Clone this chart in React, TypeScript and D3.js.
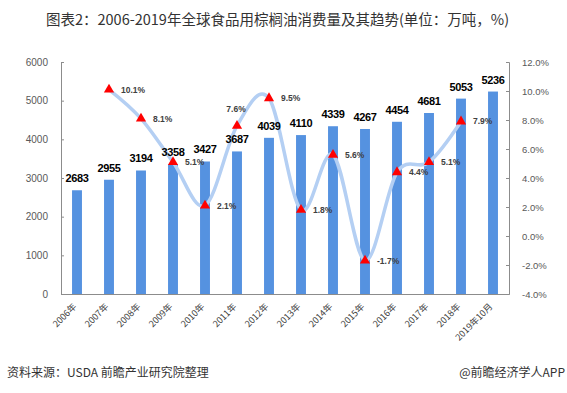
import { useEffect, useRef } from 'react';
import * as d3 from 'd3';

const categories = ['2006年', '2007年', '2008年', '2009年', '2010年', '2011年', '2012年', '2013年', '2014年', '2015年', '2016年', '2017年', '2018年', '2019年10月'];
const consumption = [2683, 2955, 3194, 3358, 3427, 3687, 4039, 4110, 4339, 4267, 4454, 4681, 5053, 5236];
const growthYears = ['2007年', '2008年', '2009年', '2010年', '2011年', '2012年', '2013年', '2014年', '2015年', '2016年', '2017年', '2018年'];
const growth = [10.1, 8.1, 5.1, 2.1, 7.6, 9.5, 1.8, 5.6, -1.7, 4.4, 5.1, 7.9];
const leftTicks = [0, 1000, 2000, 3000, 4000, 5000, 6000];
const rightTicks = [-4, -2, 0, 2, 4, 6, 8, 10, 12];

const W = 567;
const H = 393;
const CJK = '"Noto Sans CJK SC", "Noto Sans", sans-serif';
const NUM = '"Liberation Sans", Arial, sans-serif';

export default function App() {
  const svgRef = useRef<SVGSVGElement | null>(null);

  useEffect(() => {
    document.body.style.margin = '0';
    const svg = d3.select(svgRef.current);
    svg.selectAll('*').remove();

    const left = 61, right = 509, top = 62, bottom = 294;

    const x = d3.scaleBand<string>().domain(categories).range([left, right]).paddingInner(0.69).paddingOuter(0.345);
    const yL = d3.scaleLinear().domain([0, 6000]).range([bottom, top]);
    const yR = d3.scaleLinear().domain([-4, 12]).range([bottom, top]);
    const cx = (c: string) => (x(c) as number) + x.bandwidth() / 2;

    svg.append('rect').attr('width', W).attr('height', H).attr('fill', '#fff');

    // title
    svg.append('text')
      .attr('x', W / 2 - 6).attr('y', 25)
      .attr('text-anchor', 'middle')
      .attr('fill', '#333')
      .style('font-family', CJK)
      .style('font-size', '14.5px')
      .text('图表2：2006-2019年全球食品用棕榈油消费量及其趋势(单位：万吨，%)');

    // bars
    svg.selectAll('rect.bar')
      .data(consumption)
      .join('rect')
      .attr('class', 'bar')
      .attr('x', (_, i) => x(categories[i]) as number)
      .attr('width', x.bandwidth())
      .attr('y', d => yL(d))
      .attr('height', d => bottom - yL(d))
      .attr('fill', '#5592e0');

    // axes
    const axisColor = '#8c8c8c';
    const gl = svg.append('g').attr('transform', `translate(${left},0)`)
      .call(d3.axisLeft(yL).tickValues(leftTicks).tickSize(-3).tickPadding(13).tickFormat(d => String(d)));
    const gr = svg.append('g').attr('transform', `translate(${right},0)`)
      .call(d3.axisRight(yR).tickValues(rightTicks).tickSize(-3).tickPadding(13).tickFormat(d => `${(+d).toFixed(1)}%`));
    [gl, gr].forEach(g => {
      g.select('.domain').attr('stroke', axisColor);
      g.selectAll('.tick line').attr('stroke', axisColor);
      g.selectAll('.tick text')
        .attr('fill', '#595959')
        .style('font-family', NUM)
        .style('font-size', '10px');
    });
    gr.selectAll('.tick text').style('font-size', '9.5px');

    const gx = svg.append('g').attr('transform', `translate(0,${bottom})`)
      .call(d3.axisBottom(x).tickSize(0));
    gx.select('.domain').attr('stroke', axisColor);
    gx.selectAll('.tick text')
      .attr('fill', '#404040')
      .attr('x', 0).attr('y', 0).attr('dy', '0.35em')
      .style('font-family', CJK)
      .style('font-size', '9px')
      .attr('text-anchor', 'end')
      .attr('transform', 'translate(-2,11) rotate(-45)');

    // growth line
    const pts: [number, number][] = growth.map((v, i) => [cx(growthYears[i]), yR(v)]);
    const line = d3.line().curve(d3.curveCardinal.tension(0));
    svg.append('path')
      .attr('d', line(pts))
      .attr('fill', 'none')
      .attr('stroke', '#b4cff3')
      .attr('stroke-width', 3.5)
      .attr('stroke-linecap', 'round');

    // bar value labels
    svg.selectAll('text.val')
      .data(consumption)
      .join('text')
      .attr('class', 'val')
      .attr('x', (_, i) => cx(categories[i]))
      .attr('y', d => yL(d) - 8)
      .attr('text-anchor', 'middle')
      .attr('fill', '#000')
      .style('font-family', NUM)
      .style('font-size', '11px')
      .style('font-weight', '700')
      .style('letter-spacing', '-0.4px')
      .text(d => d);

    const tri = d3.symbol().type(d3.symbolTriangle).size(45);
    svg.selectAll('path.mk')
      .data(pts)
      .join('path')
      .attr('class', 'mk')
      .attr('d', tri)
      .attr('transform', d => `translate(${d[0]},${d[1]})`)
      .attr('fill', '#ff0000');

    // 2011 label sits above its marker, the rest to the right
    svg.selectAll('text.pct')
      .data(growth)
      .join('text')
      .attr('class', 'pct')
      .attr('x', (_, i) => growthYears[i] === '2011年' ? pts[i][0] - 1 : pts[i][0] + 12)
      .attr('y', (_, i) => growthYears[i] === '2011年' ? pts[i][1] - 14 : pts[i][1] + 3)
      .attr('text-anchor', (_, i) => growthYears[i] === '2011年' ? 'middle' : 'start')
      .attr('fill', '#404040')
      .style('font-family', NUM)
      .style('font-size', '8.5px')
      .style('font-weight', '700')
      .text(d => `${d.toFixed(1)}%`);

    // footer
    svg.append('text')
      .attr('x', 7).attr('y', 377)
      .attr('fill', '#333')
      .style('font-family', CJK)
      .style('font-size', '12px')
      .text('资料来源：USDA 前瞻产业研究院整理');
    svg.append('text')
      .attr('x', W - 2).attr('y', 377)
      .attr('text-anchor', 'end')
      .attr('fill', '#333')
      .style('font-family', CJK)
      .style('font-size', '12px')
      .text('@前瞻经济学人APP');
  }, []);

  return <svg ref={svgRef} width={W} height={H} style={{ display: 'block' }}></svg>;
}
